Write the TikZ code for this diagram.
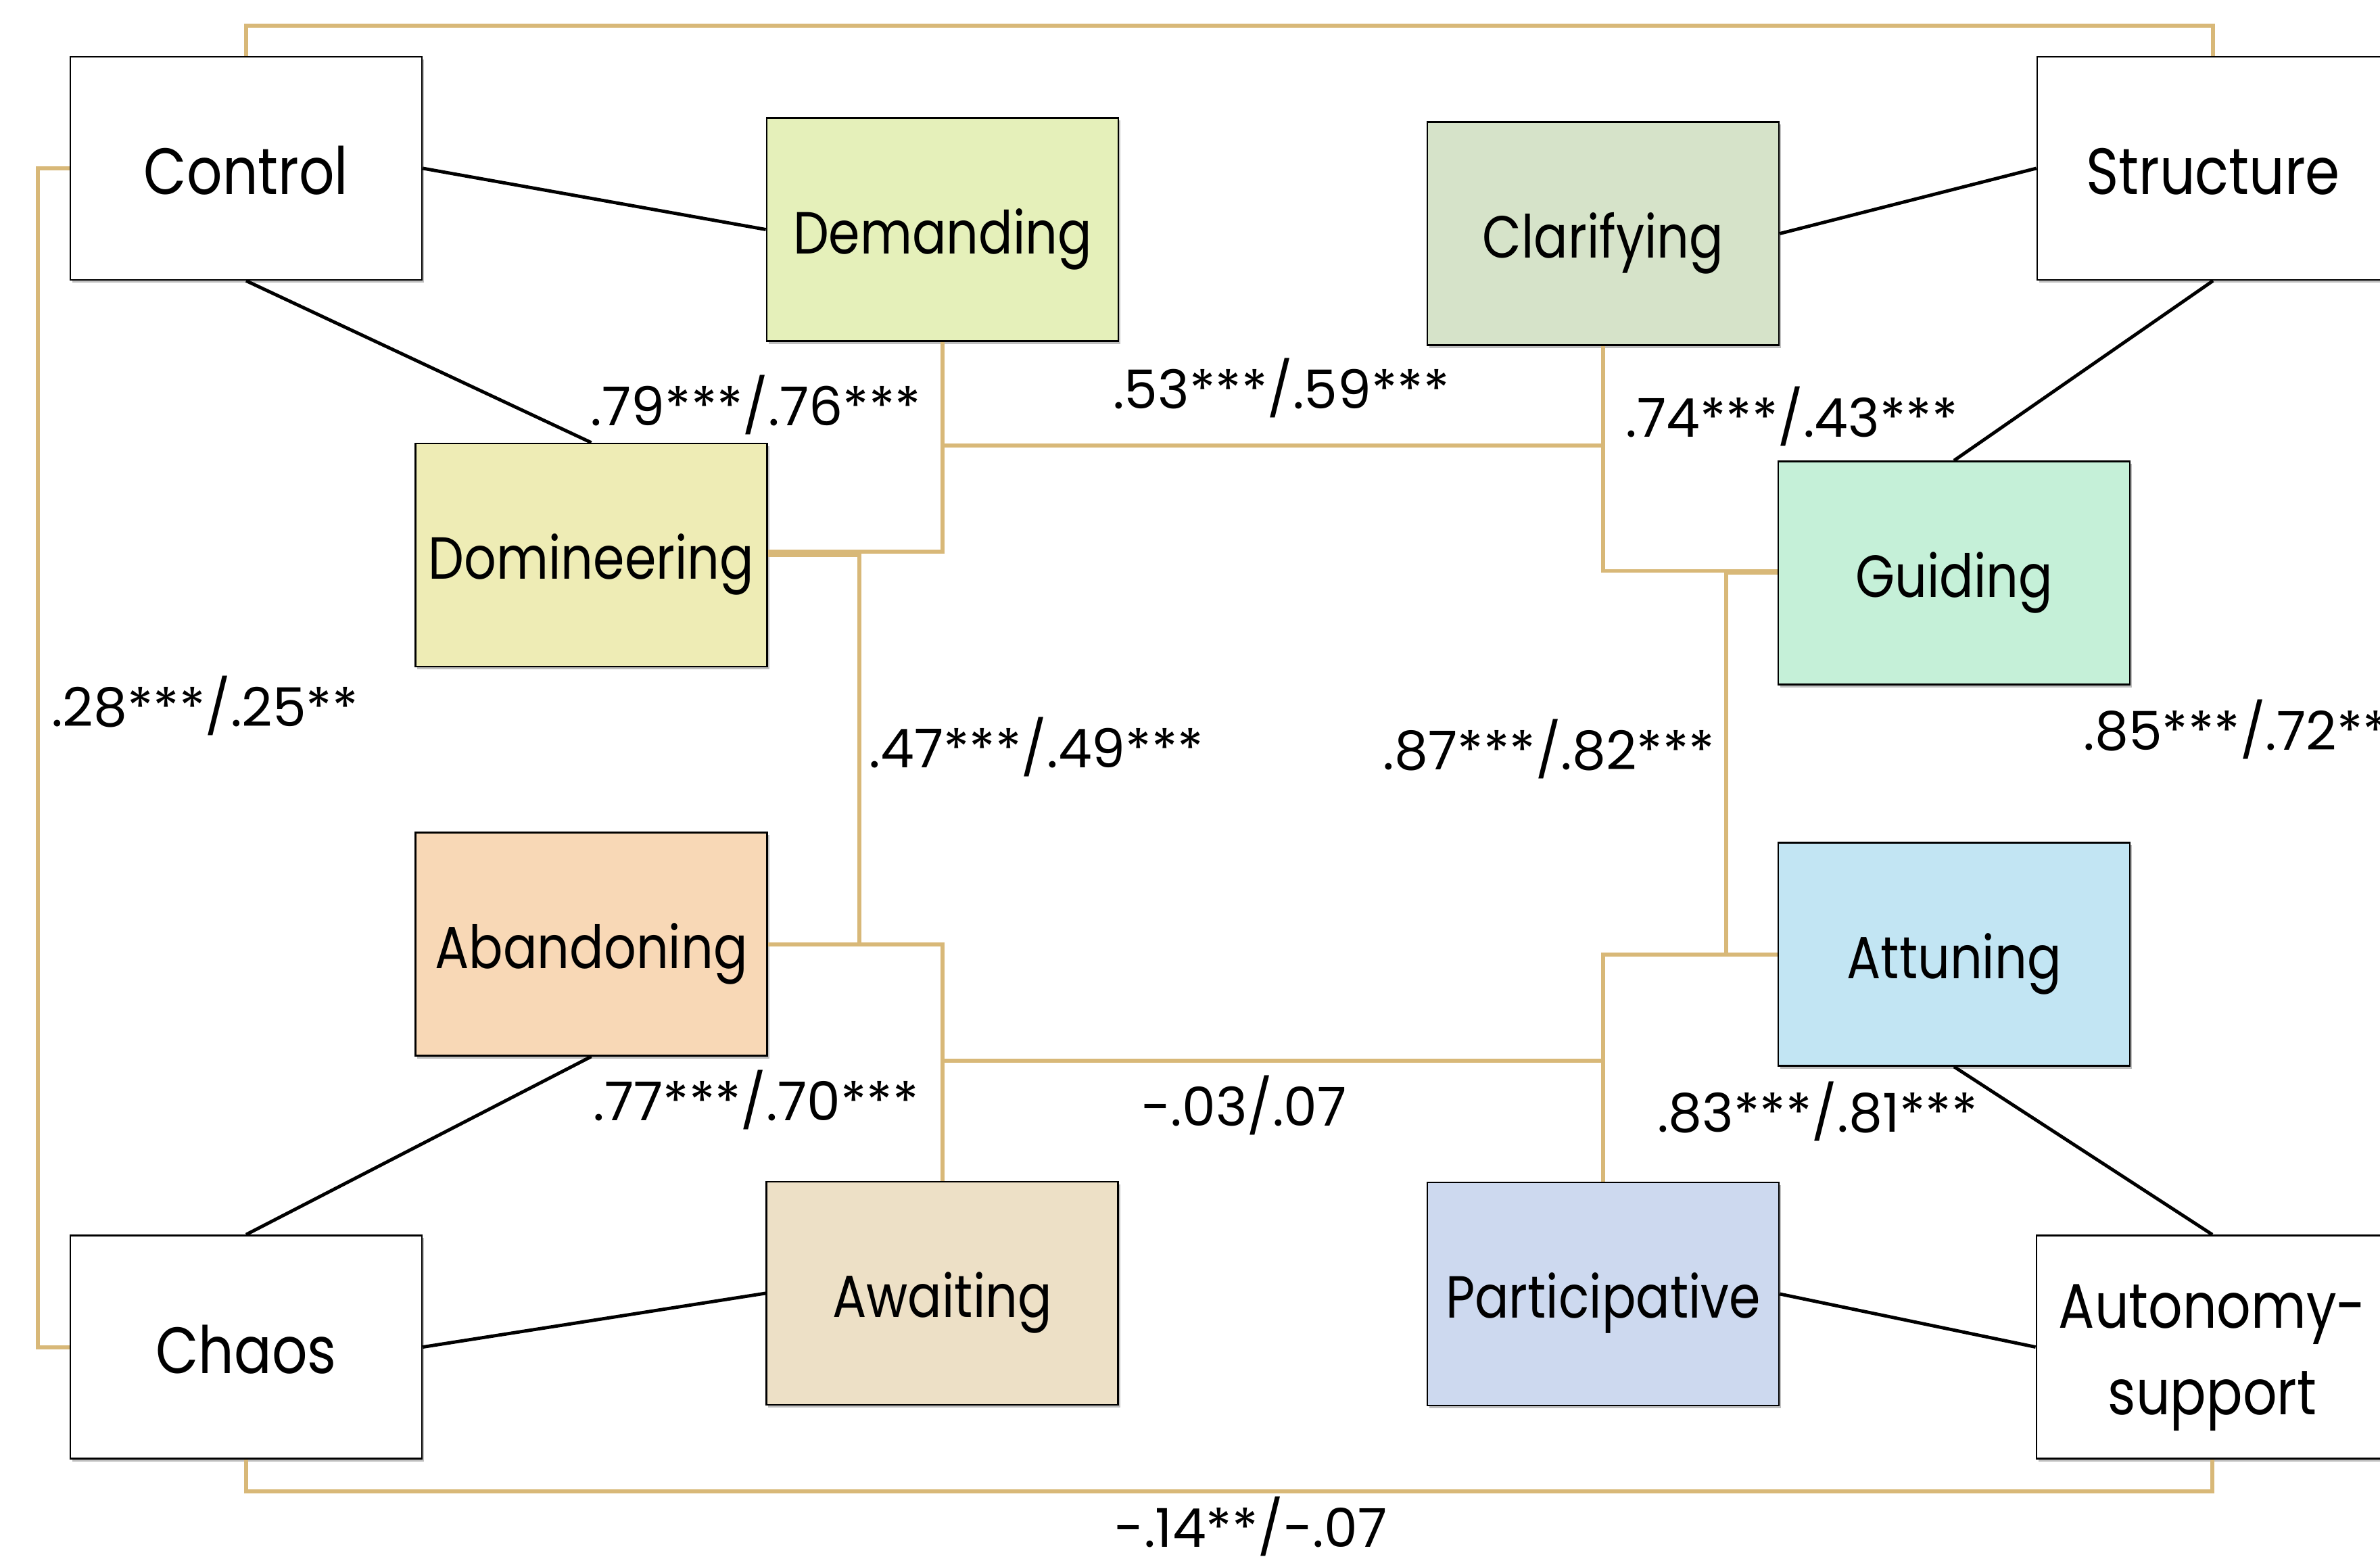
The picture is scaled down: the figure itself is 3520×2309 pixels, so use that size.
\documentclass[tikz,border=0pt]{standalone}
\usepackage{fontspec}
\setmainfont{Poppins}[FakeStretch=0.85]
\newfontfamily\lblfont{Poppins}
\usetikzlibrary{shadows}
\definecolor{gold}{RGB}{216,184,120}
\definecolor{cDem}{RGB}{229,240,186}
\definecolor{cDom}{RGB}{238,236,181}
\definecolor{cAba}{RGB}{248,216,182}
\definecolor{cAwa}{RGB}{237,224,198}
\definecolor{cCla}{RGB}{214,227,201}
\definecolor{cGui}{RGB}{197,240,216}
\definecolor{cAtt}{RGB}{194,229,243}
\definecolor{cPar}{RGB}{205,217,239}
\tikzset{
  basebox/.style={draw=black, line width=0.7pt, minimum width=5.2cm, minimum height=3.3cm,
    inner sep=0pt, align=center,
    drop shadow={shadow xshift=0.03cm, shadow yshift=-0.04cm, opacity=0.25, fill=black}},
  wbox/.style={basebox, fill=white, text height=22pt, text depth=0pt,
    font=\fontsize{27.5}{33}\selectfont},
  cbox/.style={basebox, fill=#1, text height=20.4pt, text depth=0pt,
    font=\fontsize{25}{30}\selectfont},
  blk/.style={draw=black, line width=1.4pt},
  gln/.style={draw=gold, line width=1.7pt},
  lbl/.style={font=\lblfont\fontsize{22.5}{27}\selectfont, inner sep=0pt, anchor=base}
}
\begin{document}
\begin{tikzpicture}[x=0.01cm, y=-0.01cm]
\useasboundingbox (0,0) rectangle (3520,2309);
\fill[white] (0,0) rectangle (3520,2309);
\clip (0,0) rectangle (3520,2309);

% nodes
\node[wbox] (ctrl) at (364,249) {Control};
\node[cbox=cDem] (dem) at (1394,339.5) {Demanding};
\node[cbox=cDom] (dom) at (874.5,821) {Domineering};
\node[cbox=cAba] (aban) at (874.5,1396.5) {Abandoning};
\node[cbox=cAwa] (await) at (1393.5,1913) {Awaiting};
\node[wbox] (chaos) at (364,1992.5) {Chaos};
\node[cbox=cCla] (clar) at (2371,345.5) {Clarifying};
\node[wbox] (struct) at (3273,249) {Structure};
\node[cbox=cGui] (guid) at (2890,847.5) {Guiding};
\node[cbox=cAtt] (att) at (2890,1411.5) {Attuning};
\node[cbox=cPar] (part) at (2371,1914) {Participative};
\node[basebox, fill=white, font=\fontsize{26.5}{36.4}\selectfont] (auto) at (3272,1992.5) {};
\node[font=\fontsize{26.5}{36.4}\selectfont, align=center, inner sep=0pt] (autotxt) at (3272,2008) {Autonomy-\\support};

% helper coordinates
\coordinate (topY) at (0,38);
\coordinate (botY) at (0,2206);
\coordinate (leftX) at (56,0);
\coordinate (daX) at (1271,0);
\coordinate (gaX) at (2553,0);
\coordinate (y53) at (0,659);
\coordinate (y03) at (0,1569);

% black connectors
\draw[blk] (ctrl.east) -- (dem.west);
\draw[blk] (ctrl.south) -- (dom.north);
\draw[blk] (clar.east) -- (struct.west);
\draw[blk] (struct.south) -- (guid.north);
\draw[blk] (aban.south) -- (chaos.north);
\draw[blk] (chaos.east) -- (await.west);
\draw[blk] (att.south) -- (auto.north);
\draw[blk] (part.east) -- (auto.west);

% gold connectors
\draw[gln] (ctrl.north) |- (topY -| struct.north) -- (struct.north);
\draw[gln] (ctrl.west) -| (leftX |- chaos.west) -- (chaos.west);
\draw[gln] (chaos.south) |- (botY -| auto.south) -- (auto.south);
\draw[gln] (dem.south) |- ([yshift=0.05cm]dom.east);
\draw[gln] (dom.east) -| (daX |- aban.east) -- (aban.east);
\draw[gln] (aban.east) -| (await.north);
\draw[gln] (clar.south) |- ([yshift=0.03cm]guid.west);
\draw[gln] (guid.west) -| (gaX |- att.west) -- (att.west);
\draw[gln] (att.west) -| (part.north);
\draw[gln] (dem.south |- y53) -- (clar.south |- y53);
\draw[gln] (await.north |- y03) -- (part.north |- y03);

% labels
\node[lbl] (l1) at (1118,629) {.79***/.76***};
\node[lbl] (l2) at (1895,604) {.53***/.59***};
\node[lbl] (l3) at (2650,646) {.74***/.43***};
\node[lbl] (l4) at (303,1074) {.28***/.25**};
\node[lbl] (l5) at (1533,1135) {.47***/.49***};
\node[lbl] (l6) at (2291,1138) {.87***/.82***};
\node[lbl, anchor=base west] (l7) at (3081,1109) {.85***/.72**};
\node[lbl] (l8) at (1118,1657) {.77***/.70***};
\node[lbl] (l9) at (1840,1665) {-.03/.07};
\node[lbl] (l10) at (2688,1674) {.83***/.81***};
\node[lbl] (l11) at (1850,2288) {-.14**/-.07};
\end{tikzpicture}
\end{document}
